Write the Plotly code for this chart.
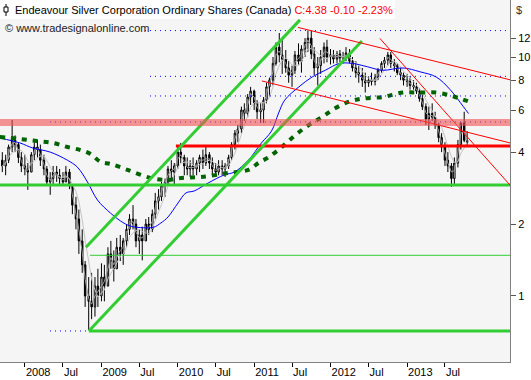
import plotly.graph_objects as go
import pandas as pd

# ---------------- data (semi-monthly bars) ----------------
bar_start = "2007-09-15"
highs = [4.0,3.9,4.3,5.45,4.7,4.4,4.0,
         3.9,3.6,4.0,4.4,4.5,4.3,3.9,3.5,3.3,3.5,3.5,3.4,3.3,3.5,3.4,2.9,2.6,2.3,1.9,1.4,1.2,1.25,1.2,1.3,
         1.37,1.35,1.6,1.7,1.55,1.75,1.8,1.75,2.0,2.2,2.4,2.1,1.9,1.95,2.1,2.14,2.3,2.7,2.8,3.0,3.1,3.5,3.7,3.6,
         4.2,4.37,3.9,3.8,3.7,3.8,3.7,3.9,4.1,4.2,4.0,3.8,3.6,3.7,3.7,3.6,3.9,4.4,4.95,5.2,6.2,6.4,7.0,7.5,
         7.3,6.6,6.4,6.8,7.8,8.2,10.0,11.5,12.6,11.8,10.7,9.6,9.2,10.6,11.4,11.2,12.0,12.9,12.9,11.0,10.0,10.7,11.5,11.8,
         10.8,10.7,10.6,10.7,10.5,11.0,10.8,10.0,9.6,9.2,9.0,8.6,8.3,8.6,8.5,9.0,9.6,10.0,10.5,10.5,9.8,9.4,9.0,8.6,
         8.5,8.3,8.0,7.8,7.4,7.0,6.4,6.2,6.4,5.9,5.3,4.8,4.4,4.0,3.6,3.8,4.5,5.3,5.9,4.9]
lows = [3.3,3.2,3.6,4.0,4.0,3.6,3.3,
        3.2,2.78,3.3,3.7,3.8,3.5,3.2,2.9,2.65,2.9,3.0,2.9,2.9,3.0,2.8,2.2,1.9,1.5,1.25,0.9,0.72,0.8,0.82,0.9,
        0.95,0.95,1.1,1.3,1.15,1.3,1.4,1.35,1.6,1.8,1.9,1.6,1.5,1.41,1.7,1.8,1.85,2.1,2.3,2.5,2.6,2.9,3.1,2.9,
        3.4,3.6,3.2,3.2,3.15,3.2,3.2,3.3,3.4,3.5,3.4,3.2,3.15,3.2,3.2,3.15,3.4,3.7,4.1,4.4,4.8,5.4,5.6,6.3,
        6.0,5.5,5.3,5.3,6.4,6.8,7.6,9.2,9.5,8.5,8.6,7.8,7.5,8.5,9.3,8.6,10.0,10.5,9.8,8.4,7.6,8.5,9.4,9.5,
        9.3,9.4,9.4,9.5,9.4,9.6,9.4,8.7,8.2,7.8,7.5,7.1,7.5,7.6,7.6,8.0,8.6,9.0,9.2,9.0,8.7,8.4,8.0,7.6,
        7.5,7.3,7.3,7.0,6.5,6.0,5.2,4.95,5.4,5.0,4.4,4.0,3.5,3.3,2.86,2.9,3.45,4.1,4.4,4.2]
closes = [3.5,3.7,4.2,4.5,4.3,3.8,3.5,
          3.4,3.3,3.9,4.2,4.1,3.7,3.4,3.0,3.1,3.3,3.2,3.1,3.0,3.3,2.9,2.4,2.1,1.7,1.35,1.0,0.95,0.9,1.1,1.0,
          1.2,1.1,1.5,1.4,1.3,1.6,1.5,1.7,1.9,2.1,2.0,1.7,1.8,1.7,2.0,1.9,2.2,2.5,2.6,2.9,3.0,3.4,3.3,3.5,
          4.0,3.8,3.5,3.4,3.5,3.4,3.6,3.8,3.6,3.9,3.6,3.4,3.3,3.5,3.4,3.5,3.8,4.3,4.8,5.0,6.0,5.8,6.8,7.2,
          6.4,5.9,6.0,6.6,7.5,8.0,9.4,11.0,10.2,9.8,9.0,8.4,8.8,10.2,9.6,10.8,11.5,12.0,10.3,9.0,9.2,10.0,11.0,10.0,
          10.2,9.8,10.3,9.9,10.0,10.4,9.6,9.0,8.6,8.4,8.0,7.8,8.0,7.9,8.2,8.8,9.4,9.7,10.2,9.4,9.2,8.6,8.4,8.0,
          7.9,7.6,7.5,7.2,6.7,6.2,5.5,5.8,5.6,5.2,4.6,4.2,3.7,3.5,3.1,3.6,4.3,5.3,4.48,4.38]
first_open = 3.7

blue_dates = ["2007-09-03","2007-12-08","2008-02-08","2008-05-01","2008-07-22","2008-09-08","2008-10-26",
              "2008-12-13","2009-02-14","2009-04-02","2009-05-20","2009-07-22","2009-09-08","2009-10-12",
              "2009-11-15","2010-01-02","2010-02-09","2010-03-20","2010-05-26","2010-08-11","2010-09-28",
              "2010-12-04","2011-02-05","2011-03-25","2011-04-28","2011-05-27","2011-08-03","2011-10-05",
              "2011-12-07","2012-02-13","2012-04-15","2012-06-26","2012-09-06","2012-12-12","2013-03-04",
              "2013-05-20","2013-07-26","2013-09-27","2013-10-22"]
blue_vals = [4.58,4.37,4.16,4.0,3.7,3.46,3.0,2.52,2.22,2.06,1.96,1.93,1.94,2.02,2.14,2.45,2.7,2.75,2.97,
             3.21,3.3,3.7,4.37,4.9,5.83,6.6,7.5,8.25,8.8,9.4,9.4,9.1,8.8,9.0,8.67,8.25,7.3,6.2,5.8]

green_dates = ["2007-09-03","2007-12-08","2008-02-27","2008-05-15","2008-07-22","2008-09-23","2008-11-10",
               "2008-12-28","2009-02-14","2009-05-06","2009-08-22","2009-11-15","2010-01-17","2010-04-24",
               "2010-08-30","2010-12-04","2011-01-21","2011-03-11","2011-05-13","2011-07-15","2011-09-20",
               "2011-11-21","2012-01-23","2012-03-30","2012-06-01","2012-09-06","2012-12-12","2013-03-04",
               "2013-05-20","2013-07-26","2013-09-12","2013-10-25"]
green_vals = [4.63,4.54,4.45,4.37,4.2,4.08,3.93,3.64,3.57,3.37,3.12,3.06,3.12,3.15,3.27,3.37,3.6,3.81,
              4.2,4.7,5.2,5.6,6.1,6.5,6.7,6.8,7.1,7.1,7.1,6.9,6.7,6.5]

x_start, x_end = "2007-09-04", "2014-05-08"

# horizontal levels
green_thick_start = ["2007-09-04", "2008-11-02"]
green_thick_price = [2.91, 0.714]
green_thin_start = ["2008-11-07"]
green_thin_price = [1.48]
red_thick_start = ["2009-12-23"]
red_thick_price = [4.24]
blue_dot_start = ["2009-07-28", "2009-08-21", "2009-08-21", "2008-04-30", "2008-04-30"]
blue_dot_end = [x_end, x_end, x_end, x_end, "2008-11-02"]
blue_dot_price = [12.9, 8.3, 6.87, 5.35, 0.714]
band_low, band_high = 5.14, 5.5

# trend lines (anchor dates / prices)
green_trend_dates = [["2008-10-19", "2011-08-08"], ["2008-11-02", "2012-05-30"]]
green_trend_prices = [[1.60, 14.3], [0.714, 11.66]]
red_trend_dates = [["2011-07-29", x_end], ["2011-02-07", x_end], ["2012-08-24", x_end]]
red_trend_prices = [[13.3, 8.03], [7.94, 4.37], [11.96, 2.91]]

x_tick_dates = ["2008-01-01","2008-07-01","2009-01-01","2009-07-01","2010-01-01","2010-07-01",
                "2011-01-01","2011-07-01","2012-01-01","2012-07-01","2013-01-01","2013-07-01"]
x_tick_text = ["2008","Jul","2009","Jul","2010","Jul","2011","Jul","2012","Jul","2013","Jul"]
y_ticks = [1, 2, 4, 6, 8, 10, 12]

# ---------------- figure ----------------
dates = pd.date_range(bar_start, periods=len(closes), freq="SMS")
opens = [first_open] + closes[:-1]
cser = pd.Series(closes)
ma_fast = cser.rolling(2, min_periods=1).mean()
ma_slow = cser.rolling(5, min_periods=1).mean()

FONT = "Liberation Sans, Arial, sans-serif"
fig = go.Figure()

GREEN = "#32cd32"
def hline(x0, x1, y, color, width, dash="solid"):
    fig.add_trace(go.Scatter(x=[x0, x1], y=[y, y], mode="lines",
                             line=dict(color=color, width=width, dash=dash), hoverinfo="skip"))

for s, p in zip(green_thin_start, green_thin_price):
    hline(s, x_end, p, GREEN, 1)

fig.add_trace(go.Scatter(x=dates, y=ma_slow, mode="lines", line=dict(color="#c4c4c4", width=1), hoverinfo="skip"))
fig.add_trace(go.Scatter(x=dates, y=ma_fast, mode="lines", line=dict(color="#9a9a9a", width=1), hoverinfo="skip"))
fig.add_trace(go.Scatter(x=blue_dates, y=blue_vals, mode="lines", line=dict(color="#0000ff", width=1, shape="spline"), hoverinfo="skip"))
fig.add_trace(go.Scatter(x=green_dates, y=green_vals, mode="lines",
                         line=dict(color="#006400", width=4, dash="5px,6px", shape="spline"), hoverinfo="skip"))

fig.add_trace(go.Candlestick(x=dates, open=opens, high=highs, low=lows, close=closes,
                             increasing=dict(line=dict(color="black", width=1), fillcolor="white"),
                             decreasing=dict(line=dict(color="black", width=1), fillcolor="black"),
                             whiskerwidth=0, hoverinfo="skip"))

for s, e, p in zip(blue_dot_start, blue_dot_end, blue_dot_price):
    hline(s, e, p, "#0000ff", 1, "1px,4px")
for s, p in zip(green_thick_start, green_thick_price):
    hline(s, x_end, p, GREEN, 3)
for s, p in zip(red_thick_start, red_thick_price):
    hline(s, x_end, p, "#ff0000", 3)
for d, p in zip(green_trend_dates, green_trend_prices):
    fig.add_trace(go.Scatter(x=d, y=p, mode="lines", line=dict(color=GREEN, width=3), hoverinfo="skip"))
for d, p in zip(red_trend_dates, red_trend_prices):
    fig.add_trace(go.Scatter(x=d, y=p, mode="lines", line=dict(color="#ff0000", width=1), hoverinfo="skip"))

fig.add_trace(go.Scatter(x=[x_start, x_end, x_end, x_start, x_start],
                         y=[band_low, band_low, band_high, band_high, band_low],
                         mode="lines", fill="toself", fillcolor="rgba(240,80,80,0.6)",
                         line=dict(width=0), hoverinfo="skip"))

PW, PH = 510, 362
def px(x): return x / PW
def py(y): return 1 - y / PH

shapes = [
    dict(type="rect", xref="paper", yref="paper", x0=0, x1=px(395), y0=py(19), y1=1,
         fillcolor="rgba(255,255,255,0.85)", line=dict(width=0), layer="above"),
    dict(type="line", xref="paper", yref="paper", x0=px(6), x1=px(6), y0=py(4), y1=py(16),
         line=dict(color="black", width=1), layer="above"),
    dict(type="rect", xref="paper", yref="paper", x0=px(4), x1=px(8), y0=py(12), y1=py(7),
         fillcolor="white", line=dict(color="black", width=1), layer="above"),
]

annotations = [
    dict(xref="paper", yref="paper", x=px(13), y=py(10), xanchor="left", yanchor="middle", showarrow=False,
         text="Endeavour Silver Corporation Ordinary Shares (Canada) <span style='color:#ff0000'>C:4.38 -0.10 -2.23%</span>",
         font=dict(family=FONT, size=11, color="black")),
    dict(xref="paper", yref="paper", x=px(3), y=py(28), xanchor="left", yanchor="middle", showarrow=False,
         text="© www.tradesignalonline.com", font=dict(family=FONT, size=11, color="#222")),
    dict(xref="paper", yref="paper", x=px(514), y=py(10), xanchor="left", yanchor="middle", showarrow=False,
         text="$", font=dict(family=FONT, size=11, color="#333")),
]

fig.update_layout(
    template="none",
    width=531, height=380,
    margin=dict(l=0, r=21, t=0, b=18, autoexpand=False),
    paper_bgcolor="white", plot_bgcolor="#f5f5f5",
    showlegend=False, shapes=shapes, annotations=annotations,
    font=dict(family=FONT, size=11, color="black"),
    xaxis=dict(type="date", range=[x_start, x_end], rangeslider=dict(visible=False), automargin=False,
               showgrid=False, zeroline=False, showline=True, linecolor="#808080", linewidth=1,
               tickvals=x_tick_dates, ticktext=x_tick_text, ticks="outside", ticklen=4,
               tickcolor="black", ticklabelposition="outside right", ticklabeloverflow="allow",
               tickfont=dict(family=FONT, size=11, color="black")),
    yaxis=dict(type="log", side="right", range=[-0.2762, 1.2385], automargin=False,
               showgrid=False, zeroline=False, showline=True, mirror=True, linecolor="#808080", linewidth=1,
               tickvals=y_ticks, ticktext=[str(v) for v in y_ticks], ticks="outside", ticklen=5,
               ticklabeloverflow="allow",
               tickcolor="#555", tickfont=dict(family=FONT, size=11, color="black")),
)

fig.write_html("out.html", config={"displayModeBar": False, "staticPlot": True},
               post_script="document.body.style.margin='0';document.body.style.overflow='hidden';")
